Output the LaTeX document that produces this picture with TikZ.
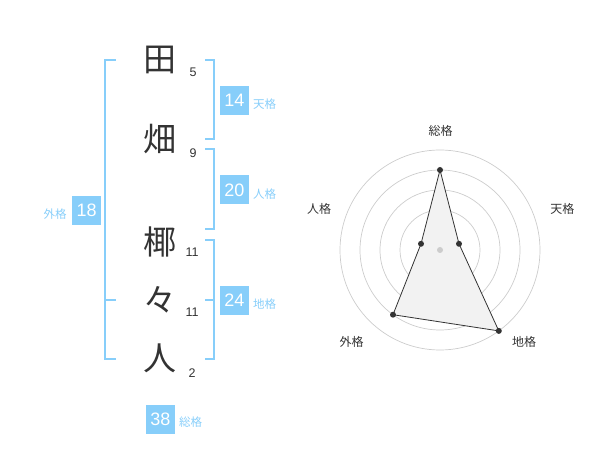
\documentclass[tikz,border=0pt]{standalone}
\usepackage{fontspec}
\setmainfont{Liberation Sans}
\newfontfamily\jpfont{Noto Sans CJK JP}
\definecolor{sky}{HTML}{87CEFA}
\definecolor{ink}{HTML}{333333}
\definecolor{ring}{HTML}{CCCCCC}
\definecolor{area}{HTML}{F2F2F2}

\begin{document}
\begin{tikzpicture}[x=1pt, y=-1pt, every node/.style={inner sep=0pt, outer sep=0pt}, kanji/.style={font=\jpfont\fontsize{33}{33}\selectfont, text=ink}, strokes/.style={font=\fontsize{12.5}{12.5}\selectfont, text=ink}, numbox/.style={fill=sky, text=white, minimum width=29pt, minimum height=29pt, font=\fontsize{18}{18}\selectfont}, kaku/.style={font=\jpfont\fontsize{11.5}{11.5}\selectfont, text=sky, anchor=west}, axis/.style={font=\jpfont\fontsize{12}{12}\selectfont, text=ink}, bracket/.style={draw=sky, line width=2pt}, dot/.style={circle, fill=ink, minimum size=6pt}]
		\useasboundingbox (0,0) rectangle (600,470);

		% Name
		\node[kanji] (ta) at (160, 60) {田};
		\node[kanji] (hata) at (160, 139) {畑};
		\node[kanji] (yashi) at (160, 242) {椰};
		\node[kanji] (noma) at (160, 300) {々};
		\node[kanji] (hito) at (160, 358) {人};
		\node[strokes] (n1) at (193, 72) {5};
		\node[strokes] (n2) at (193, 153) {9};
		\node[strokes] (n3) at (192, 252) {11};
		\node[strokes] (n4) at (192, 312) {11};
		\node[strokes] (n5) at (192, 373) {2};

		% Brackets
		\draw[bracket] (205, 60) -- (214.3, 60) -- (214.3, 139.3) -- (205, 139.3);
		\draw[bracket] (205, 149.3) -- (214.3, 149.3) -- (214.3, 229.3) -- (205, 229.3);
		\draw[bracket] (205, 240) -- (214.3, 240) -- (214.3, 359.3) -- (205, 359.3);
		\draw[bracket] (205, 300) -- (214.3, 300);
		\draw[bracket] (115.7, 60) -- (105, 60) -- (105, 359.3) -- (115.7, 359.3);
		\draw[bracket] (105, 300) -- (115.7, 300);

		% Scores
		\node[numbox] (ten) at (234.3, 100.3) {14};
		\node[kaku] (tenl) at (253, 104) {天格};
		\node[numbox] (jin) at (234.3, 190) {20};
		\node[kaku] (jinl) at (253, 194) {人格};
		\node[numbox] (chi) at (234.3, 300.3) {24};
		\node[kaku] (chil) at (253, 304) {地格};
		\node[numbox] (gai) at (86.7, 210.3) {18};
		\node[kaku, anchor=east] (gail) at (66.5, 214) {外格};
		\node[numbox] (so) at (160.5, 419.3) {38};
		\node[kaku] (sol) at (179, 422.5) {総格};

		% Radar
		\coordinate (ctr) at (440, 250);
		\foreach \r in {20, 40, 60, 80, 100}
			\draw[ring, line width=0.7pt] (ctr) circle (\r);
		\coordinate (pso) at (440, 170);
		\coordinate (pten) at (459.0, 243.8);
		\coordinate (pchi) at (498.8, 330.9);
		\coordinate (pgai) at (393.0, 314.7);
		\coordinate (pjin) at (421.0, 243.8);
		\draw[ink, fill=area, line width=0.8pt, line join=miter] (pso) -- (pten) -- (pchi) -- (pgai) -- (pjin) -- cycle;
		\node[circle, fill=ring, minimum size=6pt] (c0) at (ctr) {};
		\node[dot] (d1) at (pso) {};
		\node[dot] (d2) at (pten) {};
		\node[dot] (d3) at (pchi) {};
		\node[dot] (d4) at (pgai) {};
		\node[dot] (d5) at (pjin) {};
		\node[axis] (aso) at (440.7, 130.7) {総格};
		\node[axis] (aten) at (562.3, 209) {天格};
		\node[axis] (achi) at (524, 341.7) {地格};
		\node[axis] (agai) at (351.7, 341.7) {外格};
		\node[axis] (ajin) at (319, 209) {人格};
	\end{tikzpicture}
\end{document}
